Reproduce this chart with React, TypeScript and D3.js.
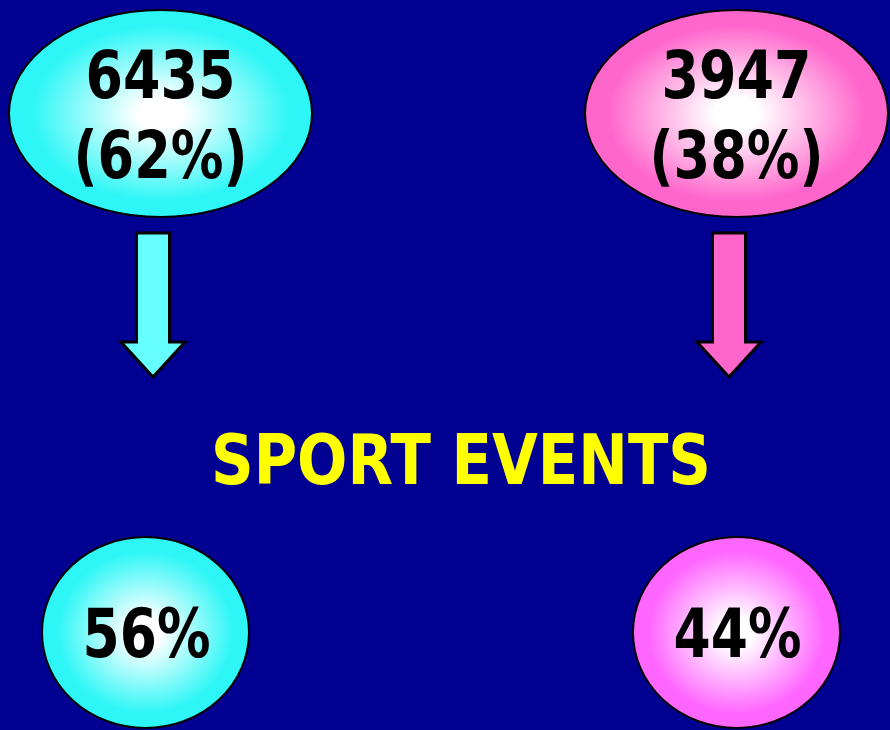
import React, { useRef, useEffect } from 'react';
import * as d3 from 'd3';

// two groups
const groups = ['left', 'right'];
const totals = [6435, 3947];
const totalShares = [62, 38];
const sportShares = [56, 44];
const centerLabel = 'SPORT EVENTS';

const topEdge = ['#2ef6f6', '#ff66cc'];
const arrowFill = ['#66ffff', '#ff66cc'];
const bottomEdge = ['#2ef6f6', '#ff66ff'];

const W = 890;
const H = 730;
const FONT = "'Comic Sans MS', 'DejaVu Sans', sans-serif";

function App() {
  const svgRef = useRef<SVGSVGElement>(null);

  useEffect(() => {
    const svg = d3.select(svgRef.current);
    svg.selectAll('*').remove();

    const xTop = d3.scalePoint().domain(groups).range([160.5, 736.5]);
    const xArrow = d3.scalePoint().domain(groups).range([153, 729]);
    const xBottom = d3.scalePoint().domain(groups).range([145.5, 736.5]);

    svg.append('rect').attr('width', W).attr('height', H).attr('fill', '#000091');

    const defs = svg.append('defs');
    const grad = (id: string, edge: string) => {
      const g = defs.append('radialGradient').attr('id', id).attr('cx', '50%').attr('cy', '50%').attr('r', '50%');
      g.append('stop').attr('offset', '0%').attr('stop-color', '#ffffff');
      g.append('stop').attr('offset', '15%').attr('stop-color', '#ffffff');
      g.append('stop').attr('offset', '85%').attr('stop-color', edge);
      g.append('stop').attr('offset', '100%').attr('stop-color', edge);
    };
    groups.forEach((g, i) => {
      grad(`top-${g}`, topEdge[i]);
      grad(`bot-${g}`, bottomEdge[i]);
    });

    // top ellipses
    const top = svg.selectAll('.top').data(groups).join('g').attr('class', 'top');
    top.append('ellipse')
      .attr('cx', d => xTop(d)!)
      .attr('cy', 113.5)
      .attr('rx', 151.5)
      .attr('ry', 103.5)
      .attr('fill', d => `url(#top-${d})`)
      .attr('stroke', '#000')
      .attr('stroke-width', 2);
    top.append('text')
      .attr('x', d => xTop(d)!)
      .attr('y', 98)
      .attr('text-anchor', 'middle')
      .attr('font-family', FONT)
      .attr('font-weight', 'bold')
      .attr('font-size', 66)
      .attr('textLength', 150)
      .attr('lengthAdjust', 'spacingAndGlyphs')
      .text((d, i) => String(totals[i]));
    top.append('text')
      .attr('x', d => xTop(d)!)
      .attr('y', 178)
      .attr('text-anchor', 'middle')
      .attr('font-family', FONT)
      .attr('font-weight', 'bold')
      .attr('font-size', 66)
      .attr('textLength', 174)
      .attr('lengthAdjust', 'spacingAndGlyphs')
      .text((d, i) => `(${totalShares[i]}%)`);

    // arrows
    const arrow = d3.line();
    const arrowPts = (cx: number): [number, number][] => [
      [cx - 16.5, 233], [cx + 16.5, 233], [cx + 16.5, 342], [cx + 32, 342],
      [cx, 377], [cx - 32, 342], [cx - 16.5, 342],
    ];
    svg.selectAll('.arrow').data(groups).join('path')
      .attr('class', 'arrow')
      .attr('d', d => arrow(arrowPts(xArrow(d)!)) + 'Z')
      .attr('fill', (d, i) => arrowFill[i])
      .attr('stroke', '#000')
      .attr('stroke-width', 3)
      .attr('stroke-linejoin', 'miter');

    svg.append('text')
      .attr('x', 461)
      .attr('y', 484)
      .attr('text-anchor', 'middle')
      .attr('font-family', FONT)
      .attr('font-weight', 'bold')
      .attr('font-size', 70)
      .attr('textLength', 500)
      .attr('lengthAdjust', 'spacingAndGlyphs')
      .attr('fill', '#ffff00')
      .text(centerLabel);

    // bottom circles
    const bot = svg.selectAll('.bot').data(groups).join('g').attr('class', 'bot');
    bot.append('ellipse')
      .attr('cx', d => xBottom(d)!)
      .attr('cy', 632.5)
      .attr('rx', 103.5)
      .attr('ry', 95.5)
      .attr('fill', d => `url(#bot-${d})`)
      .attr('stroke', '#000')
      .attr('stroke-width', 2);
    bot.append('text')
      .attr('x', d => xBottom(d)! + 1)
      .attr('y', 657)
      .attr('text-anchor', 'middle')
      .attr('font-family', FONT)
      .attr('font-weight', 'bold')
      .attr('font-size', 68)
      .attr('textLength', 128)
      .attr('lengthAdjust', 'spacingAndGlyphs')
      .text((d, i) => `${sportShares[i]}%`);
  }, []);

  return (
    <svg
      ref={svgRef}
      width={W}
      height={H}
      style={{ position: 'absolute', left: 0, top: 0, display: 'block' }}
    />
  );
}

export default App;
